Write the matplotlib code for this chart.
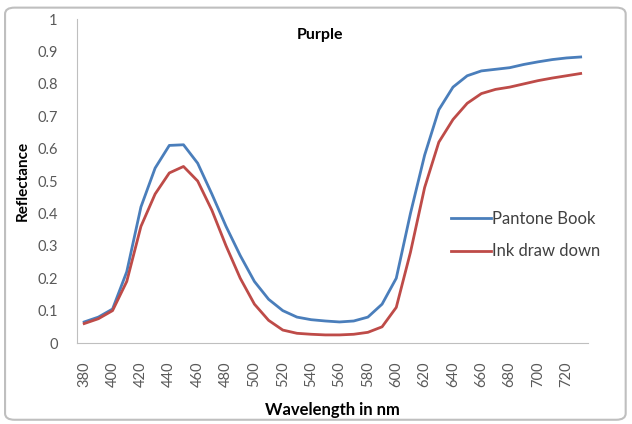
import matplotlib
matplotlib.use("Agg")
import matplotlib.pyplot as plt
from matplotlib.patches import FancyBboxPatch

wavelength = list(range(380, 731, 10))
pantone_book = [0.065, 0.08, 0.105, 0.22, 0.42, 0.54, 0.61, 0.612, 0.555, 0.46,
                0.36, 0.27, 0.19, 0.135, 0.10, 0.08, 0.072, 0.068, 0.065, 0.068,
                0.08, 0.12, 0.20, 0.40, 0.58, 0.72, 0.79, 0.825, 0.84, 0.845,
                0.85, 0.86, 0.868, 0.875, 0.88, 0.883]
ink_draw_down = [0.06, 0.075, 0.10, 0.19, 0.36, 0.46, 0.525, 0.545, 0.50, 0.41,
                 0.30, 0.20, 0.12, 0.07, 0.04, 0.03, 0.027, 0.025, 0.025, 0.027,
                 0.033, 0.05, 0.11, 0.28, 0.48, 0.62, 0.69, 0.74, 0.77, 0.783,
                 0.79, 0.80, 0.81, 0.818, 0.825, 0.832]
xticks = list(range(380, 721, 20))
yticks = [0, 0.1, 0.2, 0.3, 0.4, 0.5, 0.6, 0.7, 0.8, 0.9, 1]
ytick_labels = ["0", "0.1", "0.2", "0.3", "0.4", "0.5", "0.6", "0.7", "0.8", "0.9", "1"]

plt.rcParams['font.family'] = ['Lato', 'DejaVu Sans']

fig = plt.figure(figsize=(6.32, 4.24), dpi=100)
border = FancyBboxPatch((0.008, 0.01), 0.982, 0.972, boxstyle="round,pad=0,rounding_size=0.015",
                        transform=fig.transFigure, facecolor='white', edgecolor='#bfbfbf',
                        linewidth=1.5, zorder=-10)
fig.patches.append(border)

ax = fig.add_axes([0.122, 0.191, 0.808, 0.764])
ax.set_zorder(1)
ax.plot(wavelength, pantone_book, color='#4A7EBB', lw=2.0, label='Pantone Book')
ax.plot(wavelength, ink_draw_down, color='#BE4B48', lw=2.0, label='Ink draw down')

ax.set_xlim(375, 735)
ax.set_ylim(0, 1)
ax.set_xticks(xticks)
ax.set_xticklabels([str(t) for t in xticks], rotation=90, color='#595959', fontsize=10.5)
ax.set_yticks(yticks)
ax.set_yticklabels(ytick_labels, color='#595959', fontsize=10.5)
ax.tick_params(axis='y', length=0, pad=14)
ax.tick_params(axis='x', length=0, pad=13)
for s in ['top', 'right']:
    ax.spines[s].set_visible(False)
for s in ['left', 'bottom']:
    ax.spines[s].set_color('#bfbfbf')
ax.patch.set_alpha(0)

ax.text(0.475, 0.95, 'Purple', transform=ax.transAxes, ha='center', va='center',
        fontsize=11.5, fontweight='bold')
ax.set_ylabel('Reflectance', fontsize=11, fontweight='bold', labelpad=5)
ax.set_xlabel('Wavelength in nm', fontsize=12, fontweight='bold', labelpad=11)

leg = ax.legend(loc='center left', bbox_to_anchor=(0.715, 0.333), frameon=False,
                fontsize=12, handlelength=2.4, handletextpad=0.1, labelspacing=1.0,
                borderpad=0)
for t in leg.get_texts():
    t.set_color('#404040')

fig.savefig('out.png', dpi=100)
